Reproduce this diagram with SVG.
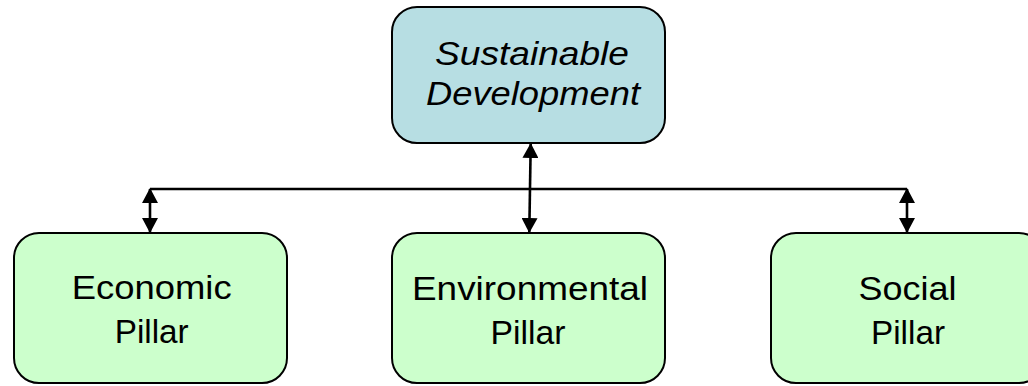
<svg xmlns="http://www.w3.org/2000/svg" width="1028" height="386" viewBox="0 0 1028 386">
  <style>
    .box { stroke: #000; stroke-width: 2; }
    .top { fill: #B7DEE3; }
    .pillar { fill: #CCFFCC; }
    .lbl { font-family: "Liberation Sans", Arial, sans-serif; font-size: 33px; fill: #000; text-anchor: middle; }
    .it { font-style: italic; }
    .conn { stroke: #000; stroke-width: 2.6; fill: none; }
  </style>
  <defs>
    <marker id="ah" viewBox="0 0 15 16" refX="14" refY="8" markerWidth="15" markerHeight="16" markerUnits="userSpaceOnUse" orient="auto-start-reverse">
      <path d="M0,0 L15,8 L0,16 z" fill="#000"/>
    </marker>
  </defs>
  <rect width="1028" height="386" fill="#fff"/>
  <g id="connectors">
    <line class="conn" x1="150" y1="189" x2="907" y2="189"/>
    <line class="conn" x1="530.7" y1="144" x2="529.3" y2="232" marker-start="url(#ah)" marker-end="url(#ah)"/>
    <line class="conn" x1="150" y1="189" x2="150" y2="232" marker-start="url(#ah)" marker-end="url(#ah)"/>
    <line class="conn" x1="907" y1="189" x2="907" y2="232" marker-start="url(#ah)" marker-end="url(#ah)"/>
  </g>
  <g id="sustainable-development">
    <rect class="box top" x="392" y="7" width="273" height="136" rx="25" ry="25"/>
    <text class="lbl it" x="532" y="65" textLength="194" lengthAdjust="spacingAndGlyphs">Sustainable</text>
    <text class="lbl it" x="533" y="105" textLength="214" lengthAdjust="spacingAndGlyphs">Development</text>
  </g>
  <g id="economic-pillar">
    <rect class="box pillar" x="14" y="233" width="273" height="150" rx="25" ry="25"/>
    <text class="lbl" x="151.7" y="299" textLength="160" lengthAdjust="spacingAndGlyphs">Economic</text>
    <text class="lbl" x="151.7" y="343" textLength="74" lengthAdjust="spacingAndGlyphs">Pillar</text>
  </g>
  <g id="environmental-pillar">
    <rect class="box pillar" x="392" y="233" width="273" height="150" rx="25" ry="25"/>
    <text class="lbl" x="530" y="300" textLength="236" lengthAdjust="spacingAndGlyphs">Environmental</text>
    <text class="lbl" x="528" y="344" textLength="75" lengthAdjust="spacingAndGlyphs">Pillar</text>
  </g>
  <g id="social-pillar">
    <rect class="box pillar" x="771" y="233" width="273" height="150" rx="25" ry="25"/>
    <text class="lbl" x="907.5" y="300" textLength="98" lengthAdjust="spacingAndGlyphs">Social</text>
    <text class="lbl" x="908" y="344" textLength="74" lengthAdjust="spacingAndGlyphs">Pillar</text>
  </g>
</svg>
